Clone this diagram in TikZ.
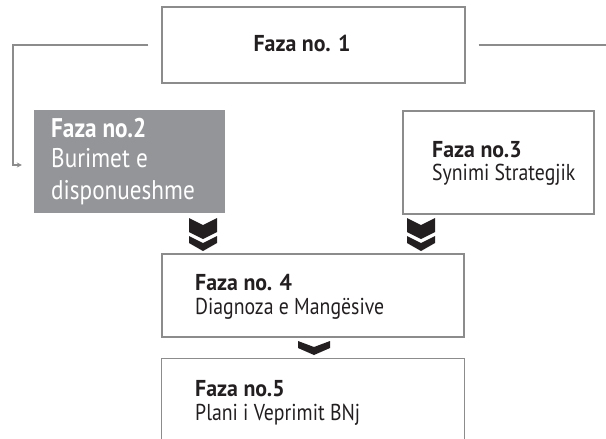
\documentclass[tikz,border=0pt]{standalone}
\usepackage{fontspec}
\setmainfont{PT Sans}[FakeStretch=0.86]
\newfontfamily\ttlfont{PT Sans}[FakeStretch=0.95]
\usetikzlibrary{arrows.meta}
\definecolor{boxline}{HTML}{8C8C8C}
\definecolor{boxgray}{HTML}{939598}
\definecolor{chevcol}{HTML}{231F20}
\begin{document}
\begin{tikzpicture}[x=1pt,y=-1pt,
  box/.style={draw=boxline, line width=1.2pt, inner sep=0pt},
  graybox/.style={fill=boxgray, draw=none, inner sep=0pt},
  conn/.style={draw=boxline, line width=1.2pt},
  ttl/.style={font=\ttlfont\bfseries\fontsize{23}{24}\selectfont, inner sep=0pt, anchor=base west, text=chevcol},
  sub/.style={font=\fontsize{23}{24}\selectfont, inner sep=0pt, anchor=base west, text=chevcol},
  bigttl/.style={font=\bfseries\fontsize{27}{30}\selectfont, inner sep=0pt, anchor=base west, text=white},
  bigsub/.style={font=\fontsize{27}{30}\selectfont, inner sep=0pt, anchor=base west, text=white},
  dchev/.pic={
    \fill[chevcol] (-14,0) -- (0,7) -- (14,0) -- (14,14) -- (0,21) -- (-14,14) -- cycle;
    \fill[chevcol] (-14,18) -- (0,25) -- (14,18) -- (14,25) -- (0,33) -- (-14,25) -- cycle;
  },
  schev/.pic={
    \fill[chevcol] (-16,0) -- (0,6) -- (16,0) -- (16,7) -- (0,14) -- (-16,7) -- cycle;
  }]
\useasboundingbox (0,0) rectangle (606,439);

% boxes
\node[box, minimum width=303pt, minimum height=76pt] (f1) at (313.5,45) {};
\node[graybox, minimum width=191pt, minimum height=103pt] (f2) at (129.5,161.5) {};
\node[box, minimum width=191pt, minimum height=103pt] (f3) at (498.5,162.5) {};
\node[box, minimum width=302pt, minimum height=83pt] (f4) at (313,295.5) {};
\node[inner sep=0pt, minimum width=302pt, minimum height=80pt] (f5) at (313,399) {};
\draw[conn] (f5.south west) -- (f5.north west) -- (f5.north east) -- (f5.south east);

% texts
\node[ttl, anchor=base] (t1) at (302,52) {Faza no. 1};
\node[bigttl] (t2a) at (51,137) {Faza no.2};
\node[bigsub] (t2b) at (51,167) {Burimet e};
\node[bigsub] (t2c) at (51,199) {disponueshme};
\node[ttl] (t3a) at (432,157) {Faza no.3};
\node[sub] (t3b) at (432,180) {Synimi Strategjik};
\node[ttl] (t4a) at (195,290) {Faza no. 4};
\node[sub] (t4b) at (195,314) {Diagnoza e Mangësive};
\node[ttl] (t5a) at (195,396) {Faza no.5};
\node[sub] (t5b) at (195,420) {Plani i Veprimit BNj};

% connectors
\coordinate (lc) at (13,45);
\coordinate (rc) at (606,45);
\draw[conn, -{Stealth[length=5pt,width=5pt]}] ([xshift=-13pt]f1.west) -- (lc) |- ([xshift=-12pt,yshift=-3.5pt]f2.west);
\draw[conn] ([xshift=13pt]f1.east) -- (rc);

% chevrons
\pic at (203,218) {dchev};
\pic at (421,218) {dchev};
\pic at (314,341) {schev};
\end{tikzpicture}
\end{document}
